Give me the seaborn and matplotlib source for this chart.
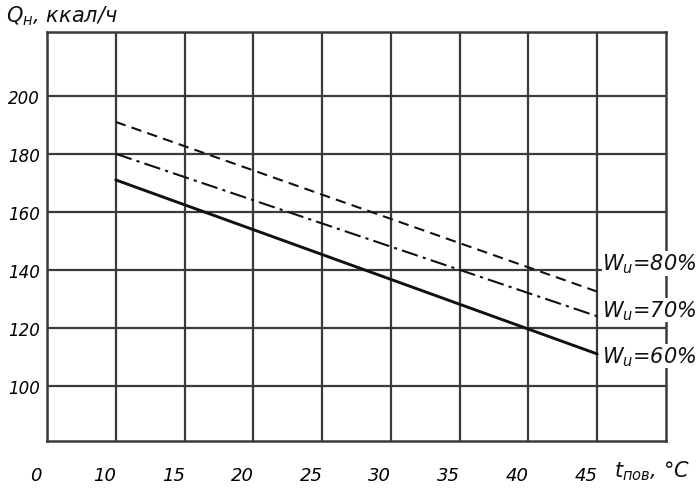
import matplotlib
matplotlib.use("Agg")
import matplotlib.pyplot as plt
import matplotlib.transforms as mtransforms
import seaborn as sns
import pandas as pd

# ---- data ----
x_tick_labels = ["0", "10", "15", "20", "25", "30", "35", "40", "45"]
y_ticks = [100, 120, 140, 160, 180, 200]
t_pov = [10, 45]
q_w80 = [191, 132.5]
q_w70 = [180, 124]
q_w60 = [171, 111]
series_names = ["W_u=80%", "W_u=70%", "W_u=60%"]

sns.set_theme(style="white")
FONT = ["DejaVu Sans"]
plt.rcParams["font.family"] = FONT
plt.rcParams["mathtext.fontset"] = "dejavusans"

# categorical (index) positions of the hand-drawn, non-uniform x axis
pos_of = {int(l): i for i, l in enumerate(x_tick_labels)}

rows = []
for name, vals in zip(series_names, [q_w80, q_w70, q_w60]):
    for t, q in zip(t_pov, vals):
        rows.append({"pos": pos_of[t], "Q": q, "series": name})
df = pd.DataFrame(rows)

fig = plt.figure(figsize=(7, 4.89), dpi=100)
ax = fig.add_axes([47 / 700, 1 - 442 / 489, (666 - 47) / 700, (442 - 33) / 489])

grid_c = "#3a3a3a"
ax.set_xlim(0, 9)
ax.set_ylim(81, 222)
ax.set_xticks(range(len(x_tick_labels)))
ax.set_xticklabels(x_tick_labels)
ax.set_yticks(y_ticks)
ax.set_yticklabels([str(v) for v in y_ticks])
ax.grid(True, color=grid_c, linewidth=1.6)
for s in ax.spines.values():
    s.set_visible(True)
    s.set_color(grid_c)
    s.set_linewidth(1.8)
ax.tick_params(axis="both", length=0)
ax.tick_params(axis="x", pad=18, labelsize=13, labelcolor="black")
ax.tick_params(axis="y", pad=5, labelsize=12, labelcolor="black")
for lab in ax.get_xticklabels() + ax.get_yticklabels():
    lab.set_fontstyle("italic")
for lab in ax.get_xticklabels():
    lab.set_transform(lab.get_transform() + mtransforms.ScaledTranslation(-11 / 100, 0, fig.dpi_scale_trans))

styles = {
    "W_u=80%": (0, (5, 3)),
    "W_u=70%": (0, (8, 2.5, 1.5, 2.5)),
    "W_u=60%": "solid",
}
widths = {"W_u=80%": 1.5, "W_u=70%": 1.5, "W_u=60%": 2.1}
label_shift_px = {"W_u=80%": 28, "W_u=70%": 6, "W_u=60%": -2}
for name in series_names:
    sub = df[df["series"] == name]
    sns.lineplot(data=sub, x="pos", y="Q", ax=ax, color="#111111",
                 linestyle=styles[name], linewidth=widths[name], legend=False)
    last = sub.iloc[-1]
    num = name.split("=")[1]
    tr = ax.transData + mtransforms.ScaledTranslation(5 / 100, label_shift_px[name] / 100, fig.dpi_scale_trans)
    ax.text(last["pos"], last["Q"], r"$W_{u}$" + "=" + num.replace("%", r"%"),
            fontsize=15, fontstyle="italic", ha="left", va="center",
            color="#111111", transform=tr, clip_on=False,
            bbox=dict(facecolor="white", edgecolor="none", pad=0.3))

ax.set_xlabel("")
ax.set_ylabel("")

fig.text(6 / 700, 1 - 16 / 489, r"$Q_{н}$" + ", ккал/ч", fontsize=15, fontstyle="italic",
         ha="left", va="center", color="#111111")
fig.text(614 / 700, 1 - 471 / 489, r"$t_{пов}$" + ", °C", fontsize=15, fontstyle="italic",
         ha="left", va="center", color="#111111")

fig.savefig("out.png", dpi=100, facecolor="white")
